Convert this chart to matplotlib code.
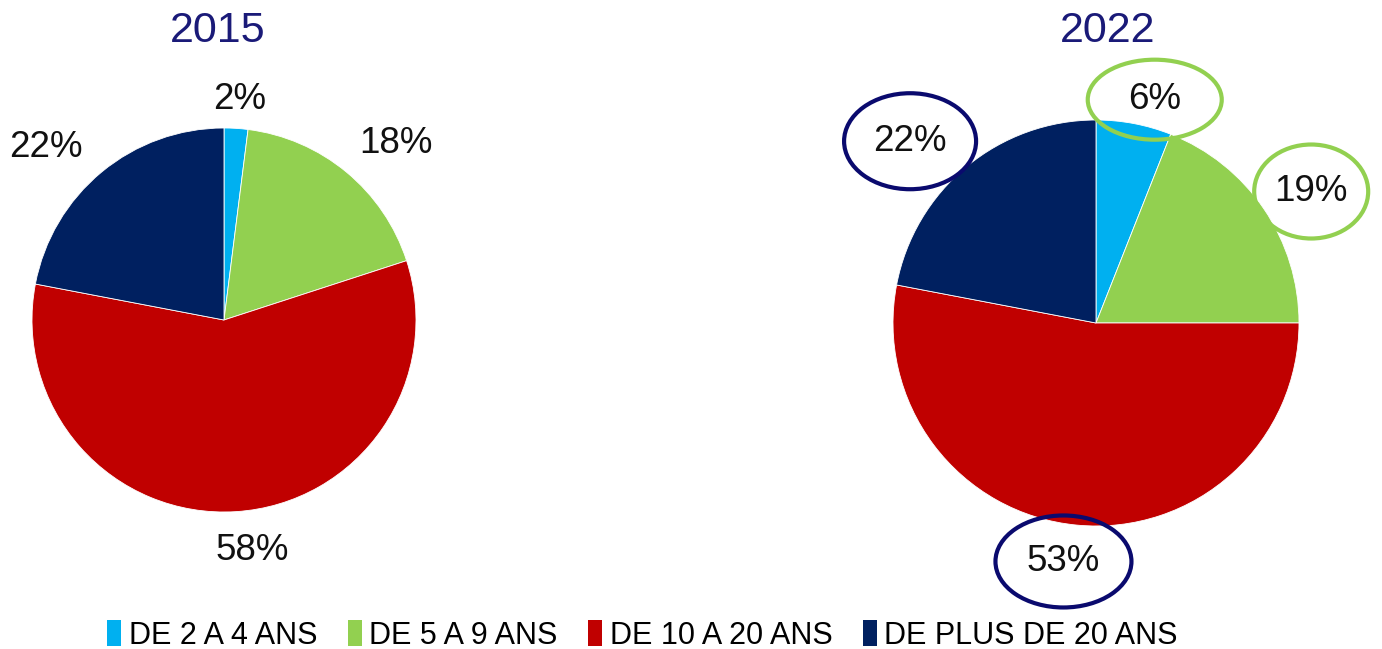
import matplotlib.pyplot as plt
import numpy as np
from matplotlib.patches import Ellipse, Rectangle

plt.rcParams['font.family'] = ['Liberation Sans', 'DejaVu Sans']

# Données
categories = ["DE 2 A 4 ANS", "DE 5 A 9 ANS", "DE 10 A 20 ANS", "DE PLUS DE 20 ANS"]
values_2015 = [2, 18, 58, 22]
values_2022 = [6, 19, 53, 22]
years = ["2015", "2022"]
colors = ["#00B0F0", "#92D050", "#C00000", "#002060"]

# Mise en page (coordonnées en pixels, origine en bas à gauche)
W, H = 1382, 649
centers = [(224, 329), (1096, 326)]
radii = [192, 203]
label_dist = [[1.17, 1.29, 1.2, 1.3], [1.15, 1.24, 1.18, 1.29]]
label_shift = [[(2, -4), (14, -14), (14, -1), (-19, -20)],
               [(15, -6), (7, -10), (-10, 0), (-19, -20)]]
circled = [None, ["#92D050", "#92D050", "#0A0A6E", "#0A0A6E"]]
ellipse_size = [(134, 80), (114, 94), (136, 92), (132, 96)]

fig = plt.figure(figsize=(W / 100, H / 100), dpi=100)
ax = fig.add_axes([0, 0, 1, 1])

for i, vals in enumerate([values_2015, values_2022]):
    cx, cy = centers[i]
    r = radii[i]
    wedges, _ = ax.pie(vals, colors=colors, startangle=90, counterclock=False,
                       center=(cx, cy), radius=r,
                       wedgeprops=dict(edgecolor="white", linewidth=0.6))
    for j, w in enumerate(wedges):
        mid = np.deg2rad((w.theta1 + w.theta2) / 2)
        d = label_dist[i][j] * r
        sx, sy = label_shift[i][j]
        tx, ty = cx + d * np.cos(mid) + sx, cy + d * np.sin(mid) + sy
        ax.text(tx, ty, f"{vals[j]}%", ha="center", va="center", fontsize=26.5, color="#111111")
        if circled[i]:
            ew, eh = ellipse_size[j]
            ax.add_patch(Ellipse((tx, ty), ew, eh, fill=False,
                                 edgecolor=circled[i][j], linewidth=3))
    ax.text(cx - 6 + 18 * i, H - 31, years[i], ha="center", va="center",
            fontsize=31, color="#1A1A78")

ax.set_xlim(0, W)
ax.set_ylim(0, H)
ax.set_aspect('equal')
ax.axis('off')

handles = [Rectangle((0, 0), 1, 1, facecolor=c, edgecolor="none") for c in colors]
fig.legend(handles, categories, loc="lower center", ncol=4, frameon=False,
           bbox_to_anchor=(0.465, -0.045), fontsize=22, handlelength=0.45,
           handleheight=0.9, handletextpad=0.25, columnspacing=1.0)

fig.savefig("out.png", dpi=100)
plt.close(fig)
